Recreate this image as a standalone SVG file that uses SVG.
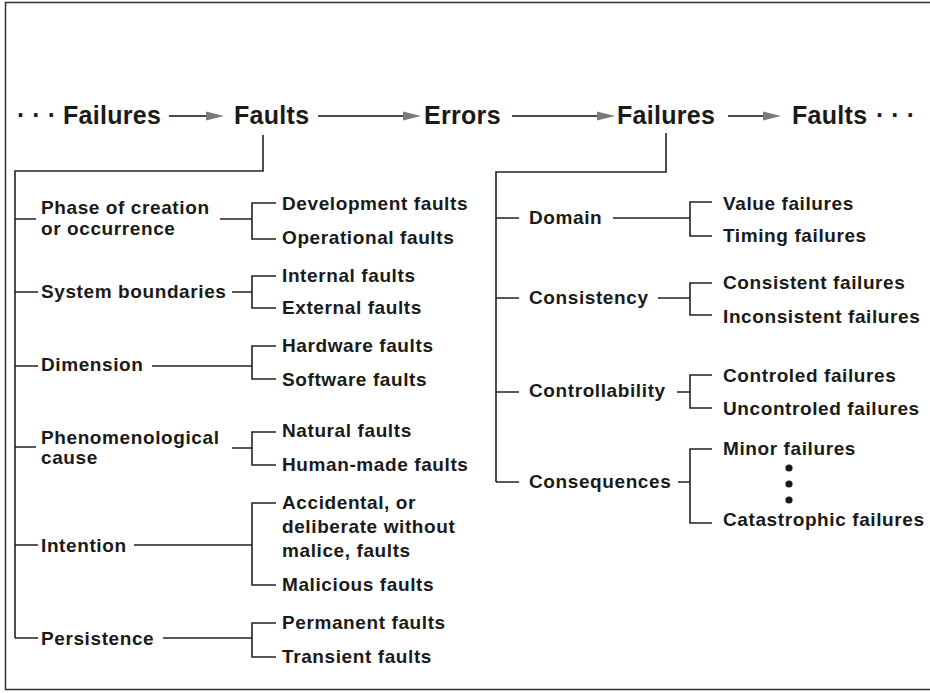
<svg xmlns="http://www.w3.org/2000/svg" width="930" height="693" viewBox="0 0 930 693">
  <style>
    .t { font-family: "Liberation Sans", Arial, sans-serif; font-weight: bold; fill: #1a1a1a; }
    .head { font-size: 25px; letter-spacing: 0.3px; }
    .lbl { font-size: 19px; letter-spacing: 0.6px; }
    .dots { font-size: 25px; letter-spacing: 7px; }
    .ln { fill: none; stroke: #222; stroke-width: 1.6; }
    .arr { fill: none; stroke: #4a4a4a; stroke-width: 2.2; }
    .frame { fill: none; stroke: #333; stroke-width: 1.5; }
  </style>
  <defs>
    <marker id="ah" markerUnits="userSpaceOnUse" markerWidth="18" markerHeight="10" refX="0" refY="5" orient="auto">
      <path d="M0,0.5 L18,5 L0,9.5 z" fill="#7a7a7a"/>
    </marker>
  </defs>

  <rect width="930" height="693" fill="#ffffff"/>
  <!-- outer frame (open on the right) -->
  <path class="frame" d="M940 2.5 H5.5 V689.5 H940"/>

  <!-- top chain -->
  <g id="chain">
    <text class="t dots" x="17" y="124">···</text>
    <g id="n-failures1"><text class="t head" x="63" y="124">Failures</text></g>
    <g id="n-faults1"><text class="t head" x="234" y="124">Faults</text></g>
    <g id="n-errors"><text class="t head" x="424" y="124">Errors</text></g>
    <g id="n-failures2"><text class="t head" x="617" y="124">Failures</text></g>
    <g id="n-faults2"><text class="t head" x="792" y="124">Faults</text></g>
    <text class="t dots" x="876" y="124">···</text>
  </g>

  <!-- connectors -->
  <g id="connectors">
    <line class="arr" x1="169" y1="116" x2="206" y2="116" marker-end="url(#ah)"/>
    <line class="arr" x1="318" y1="116" x2="403" y2="116" marker-end="url(#ah)"/>
    <line class="arr" x1="512" y1="116" x2="597" y2="116" marker-end="url(#ah)"/>
    <line class="arr" x1="728" y1="116" x2="763" y2="116" marker-end="url(#ah)"/>

    <!-- fault tree trunk -->
    <path class="ln" d="M263 135 V171 H15 V638"/>
    <!-- fault category ticks -->
    <path class="ln" d="M15 219 H36 M15 292 H38 M15 366 H38 M15 447 H36 M15 545 H38 M15 638 H38"/>
    <!-- category to bracket -->
    <path class="ln" d="M220 219 H252 M232 292 H252 M152 366 H252 M232 448 H252 M134 545 H252 M163 638 H252"/>
    <!-- fault brackets -->
    <path class="ln" d="M276 203 H252 V239 H276"/>
    <path class="ln" d="M276 276 H252 V308 H276"/>
    <path class="ln" d="M276 346 H252 V379 H276"/>
    <path class="ln" d="M276 432 H252 V465 H276"/>
    <path class="ln" d="M276 503 H252 V585 H276"/>
    <path class="ln" d="M276 623 H252 V657 H276"/>

    <!-- failure tree trunk -->
    <path class="ln" d="M666 133 V172 H496 V482"/>
    <path class="ln" d="M496 218 H519 M496 298 H519 M496 392 H519 M496 482 H519"/>
    <path class="ln" d="M613 218 H690 M658 298 H690 M677 392 H690 M678 482 H690"/>
    <path class="ln" d="M712 202 H690 V236 H712"/>
    <path class="ln" d="M712 283 H690 V315 H712"/>
    <path class="ln" d="M712 375 H690 V408 H712"/>
    <path class="ln" d="M712 449 H690 V523 H712"/>
  </g>

  <!-- fault classes -->
  <g id="phase">
    <text class="t lbl" x="41" y="214">Phase of creation</text>
    <text class="t lbl" x="41" y="235">or occurrence</text>
  </g>
  <g id="development"><text class="t lbl" x="282" y="210">Development faults</text></g>
  <g id="operational"><text class="t lbl" x="282" y="244">Operational faults</text></g>

  <g id="boundaries"><text class="t lbl" x="41" y="298">System boundaries</text></g>
  <g id="internal"><text class="t lbl" x="282" y="282">Internal faults</text></g>
  <g id="external"><text class="t lbl" x="282" y="314">External faults</text></g>

  <g id="dimension"><text class="t lbl" x="41" y="371">Dimension</text></g>
  <g id="hardware"><text class="t lbl" x="282" y="352">Hardware faults</text></g>
  <g id="software"><text class="t lbl" x="282" y="386">Software faults</text></g>

  <g id="phenomenological">
    <text class="t lbl" x="41" y="444">Phenomenological</text>
    <text class="t lbl" x="41" y="464">cause</text>
  </g>
  <g id="natural"><text class="t lbl" x="282" y="437">Natural faults</text></g>
  <g id="human"><text class="t lbl" x="282" y="471">Human-made faults</text></g>

  <g id="intention"><text class="t lbl" x="41" y="552">Intention</text></g>
  <g id="accidental">
    <text class="t lbl" x="282" y="509">Accidental, or</text>
    <text class="t lbl" x="282" y="533">deliberate without</text>
    <text class="t lbl" x="282" y="557">malice, faults</text>
  </g>
  <g id="malicious"><text class="t lbl" x="282" y="591">Malicious faults</text></g>

  <g id="persistence"><text class="t lbl" x="41" y="645">Persistence</text></g>
  <g id="permanent"><text class="t lbl" x="282" y="629">Permanent faults</text></g>
  <g id="transient"><text class="t lbl" x="282" y="663">Transient faults</text></g>

  <!-- failure classes -->
  <g id="domain"><text class="t lbl" x="529" y="224">Domain</text></g>
  <g id="value"><text class="t lbl" x="723" y="210">Value failures</text></g>
  <g id="timing"><text class="t lbl" x="723" y="242">Timing failures</text></g>

  <g id="consistency"><text class="t lbl" x="529" y="304">Consistency</text></g>
  <g id="consistent"><text class="t lbl" x="723" y="289">Consistent failures</text></g>
  <g id="inconsistent"><text class="t lbl" x="723" y="323">Inconsistent failures</text></g>

  <g id="controllability"><text class="t lbl" x="529" y="397">Controllability</text></g>
  <g id="controled"><text class="t lbl" x="723" y="382">Controled failures</text></g>
  <g id="uncontroled"><text class="t lbl" x="723" y="415">Uncontroled failures</text></g>

  <g id="consequences"><text class="t lbl" x="529" y="488">Consequences</text></g>
  <g id="minor"><text class="t lbl" x="723" y="455">Minor failures</text></g>
  <g id="ellipsis" fill="#1a1a1a">
    <circle cx="789" cy="468" r="3.6"/>
    <circle cx="789" cy="484" r="3.6"/>
    <circle cx="789" cy="500" r="3.6"/>
  </g>
  <g id="catastrophic"><text class="t lbl" x="723" y="526">Catastrophic failures</text></g>
</svg>
